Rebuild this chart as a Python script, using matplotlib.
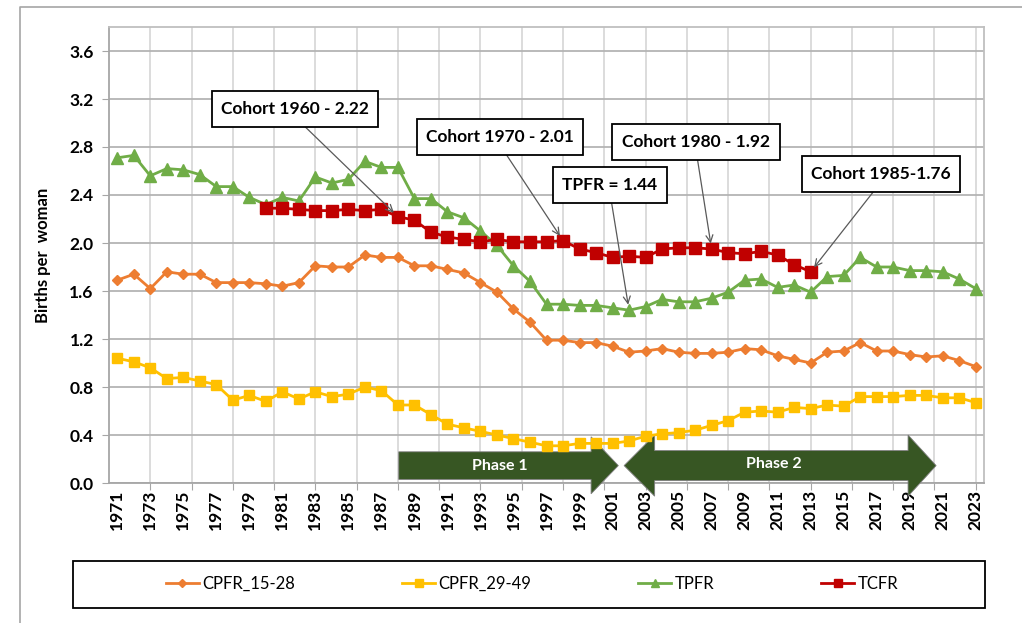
import numpy as np
import matplotlib
matplotlib.use("Agg")
import matplotlib.pyplot as plt
from matplotlib.lines import Line2D
from matplotlib.patches import Rectangle, Polygon

plt.rcParams['font.family'] = ['Lato', 'DejaVu Sans']

# data
years = list(range(1971, 2024))
cpfr_15_28 = [1.69, 1.74, 1.62, 1.76, 1.74, 1.74, 1.67, 1.67, 1.67, 1.66,
              1.64, 1.67, 1.81, 1.80, 1.80, 1.90, 1.88, 1.88, 1.81, 1.81,
              1.78, 1.75, 1.67, 1.59, 1.45, 1.34, 1.19, 1.19, 1.17, 1.17,
              1.14, 1.09, 1.10, 1.12, 1.09, 1.08, 1.08, 1.09, 1.12, 1.11,
              1.06, 1.03, 1.00, 1.09, 1.10, 1.17, 1.10, 1.10, 1.07, 1.05,
              1.06, 1.02, 0.97]
cpfr_29_49 = [1.04, 1.01, 0.96, 0.87, 0.88, 0.85, 0.82, 0.69, 0.73, 0.68,
              0.76, 0.70, 0.76, 0.72, 0.74, 0.80, 0.77, 0.65, 0.65, 0.57,
              0.49, 0.46, 0.43, 0.40, 0.37, 0.34, 0.31, 0.31, 0.33, 0.33,
              0.33, 0.35, 0.39, 0.41, 0.42, 0.44, 0.48, 0.52, 0.59, 0.60,
              0.59, 0.63, 0.62, 0.65, 0.64, 0.72, 0.72, 0.72, 0.73, 0.73,
              0.71, 0.71, 0.67]
tpfr = [2.71, 2.73, 2.56, 2.62, 2.61, 2.57, 2.47, 2.47, 2.38, 2.32,
        2.38, 2.35, 2.55, 2.50, 2.53, 2.68, 2.63, 2.63, 2.37, 2.37,
        2.26, 2.21, 2.10, 1.98, 1.81, 1.68, 1.49, 1.49, 1.48, 1.48,
        1.46, 1.44, 1.47, 1.53, 1.51, 1.51, 1.54, 1.59, 1.69, 1.70,
        1.63, 1.65, 1.59, 1.72, 1.73, 1.88, 1.80, 1.80, 1.77, 1.77,
        1.76, 1.70, 1.62]
tcfr_years = list(range(1980, 2014))
tcfr = [2.29, 2.29, 2.28, 2.27, 2.27, 2.28, 2.27, 2.28, 2.22, 2.19,
        2.09, 2.05, 2.03, 2.01, 2.03, 2.01, 2.01, 2.01, 2.02, 1.95,
        1.92, 1.88, 1.89, 1.88, 1.95, 1.96, 1.96, 1.95, 1.92, 1.91,
        1.93, 1.90, 1.82, 1.76]

# callouts: text, year and series they point at, box centre (figure px)
callouts = [
    ("Cohort 1960 - 2.22", 1988, "tcfr", (295, 514)),
    ("Cohort 1970 - 2.01", 1998, "tcfr", (500, 486)),
    ("TPFR = 1.44", 2002, "tpfr", (610, 438)),
    ("Cohort 1980 - 1.92", 2007, "tcfr", (696, 481)),
    ("Cohort 1985-1.76", 2013, "tcfr", (881, 449)),
]

fig = plt.figure(figsize=(10.22, 6.23), dpi=100)
W, H = 1022, 623
ax = fig.add_axes([109 / W, 1 - 483 / H, (984 - 109) / W, (483 - 27) / H])

ax.plot(years, cpfr_15_28, color='#ED7D31', lw=2.0, marker='D', ms=5, label='CPFR_15-28', zorder=4)
ax.plot(years, cpfr_29_49, color='#FFC000', lw=2.0, marker='s', ms=7, label='CPFR_29-49', zorder=4)
ax.plot(years, tpfr, color='#70AD47', lw=2.0, marker='^', ms=8, label='TPFR', zorder=4)
ax.plot(tcfr_years, tcfr, color='#C00000', lw=2.0, marker='s', ms=8, label='TCFR', zorder=5)

ax.set_xlim(1970.5, 2023.5)
ax.set_ylim(0, 3.8)

# gridlines / ticks
ax.set_yticks(np.arange(0, 3.61, 0.4))
ax.set_yticklabels([f"{v:.1f}" for v in np.arange(0, 3.61, 0.4)], fontsize=12.5, fontweight='bold')
ax.xaxis.remove_overlapping_locs = False
ax.set_xticks(np.arange(1973, 2023.1, 2.5))
ax.set_xticklabels([])
ax.set_xticks(years[::2], minor=True)
ax.set_xticklabels([str(y) for y in years[::2]], minor=True, rotation=90,
                   fontsize=12.5, fontweight='bold')
ax.tick_params(axis='x', which='minor', length=0, pad=5)
ax.tick_params(axis='x', which='major', length=5, color='#a6a6a6')
ax.tick_params(axis='y', length=5, color='#a6a6a6', pad=6)
ax.grid(axis='y', color='#b4b4b4', lw=1.3, zorder=0)
ax.grid(axis='x', which='major', color='#d9d9d9', lw=1.3, zorder=0)
ax.set_axisbelow(True)
for s in ax.spines.values():
    s.set_color('#bfbfbf')
    s.set_linewidth(1.3)
ax.spines['left'].set_color('#a6a6a6')
ax.spines['bottom'].set_color('#a6a6a6')

ax.set_ylabel('Births per  woman', fontsize=12, fontweight='bold', labelpad=13)

# phase arrows
green = '#375623'
p1 = Polygon([(1988.05, 0.03), (1988.05, 0.26), (1999.7, 0.26), (1999.7, 0.385),
              (2001.35, 0.145), (1999.7, -0.09), (1999.7, 0.03)],
             closed=True, fc=green, ec='#7f7f7f', lw=0.6, clip_on=False, zorder=3)
p2 = Polygon([(2001.7, 0.145), (2003.55, 0.40), (2003.55, 0.27), (2018.9, 0.27),
              (2018.9, 0.40), (2020.6, 0.145), (2018.9, -0.11), (2018.9, 0.02),
              (2003.55, 0.02), (2003.55, -0.11)],
             closed=True, fc=green, ec='#7f7f7f', lw=0.6, clip_on=False, zorder=3)
ax.add_patch(p1)
ax.add_patch(p2)
ax.text(1994.2, 0.145, 'Phase 1', color='white', fontsize=11.5, fontweight='bold',
        ha='center', va='center', zorder=6)
ax.text(2010.8, 0.155, 'Phase 2', color='white', fontsize=11.5, fontweight='bold',
        ha='center', va='center', zorder=6)

# callouts
series = {"tcfr": dict(zip(tcfr_years, tcfr)), "tpfr": dict(zip(years, tpfr))}
for text, yr, key, pos in callouts:
    ax.annotate(text, xy=(yr, series[key][yr]), xycoords='data',
                xytext=pos, textcoords='figure pixels',
                ha='center', va='center', fontsize=12.5, fontweight='bold', zorder=7,
                bbox=dict(boxstyle='square,pad=0.55', fc='white', ec='black', lw=1.3),
                arrowprops=dict(arrowstyle='->', color='#595959', lw=0.9,
                                shrinkA=0, shrinkB=4, relpos=(0.5, 0)))

# legend with its own box
fig.patches.append(Rectangle((72.7 / W, 1 - 608 / H), (985 - 72.7) / W, 47.5 / H,
                             transform=fig.transFigure, fill=False, ec='black', lw=1.3))
fig.legend(loc='center', bbox_to_anchor=(532 / W, 1 - 584 / H), ncol=4, frameon=False,
           fontsize=12, handlelength=2.0, handletextpad=0.2, columnspacing=6.4,
           markerscale=0.8)

# outer chart frame
fig.lines.append(Line2D([20 / W, 20 / W, 1], [0, 1 - 7 / H, 1 - 7 / H],
                        transform=fig.transFigure, color='#a6a6a6', lw=1.2))

fig.savefig('out.png', dpi=100)
